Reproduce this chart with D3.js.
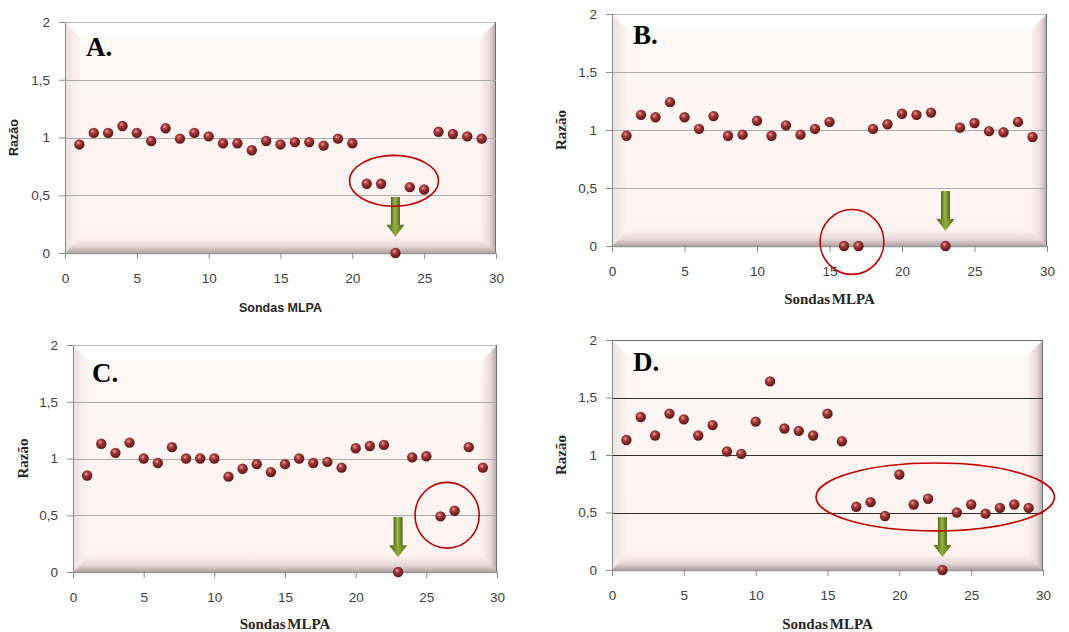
<!DOCTYPE html>
<html>
<head>
<meta charset="utf-8">
<script src="https://cdn.jsdelivr.net/npm/d3@7"></script>
<style>
  body { margin: 0; background: #fff; }
</style>
</head>
<body>
<svg id="chart" width="1069" height="632"></svg>
<script>
// probes 1..29 and ratio
var probes = [1, 2, 3, 4, 5, 6, 7, 8, 9, 10, 11, 12, 13, 14, 15, 16, 17, 18, 19, 20, 21, 22, 23, 24, 25, 26, 27, 28, 29];

var razaoA = [0.94, 1.04, 1.04, 1.10, 1.04, 0.97, 1.08, 0.99, 1.04, 1.01, 0.95, 0.95, 0.89, 0.97, 0.94,
              0.96, 0.96, 0.93, 0.99, 0.95, 0.60, 0.60, 0.00, 0.57, 0.55, 1.05, 1.03, 1.01, 0.99];
var razaoB = [0.95, 1.13, 1.11, 1.24, 1.11, 1.01, 1.12, 0.95, 0.96, 1.08, 0.95, 1.04, 0.96, 1.01, 1.07,
              0.00, 0.00, 1.01, 1.05, 1.14, 1.13, 1.15, 0.00, 1.02, 1.06, 0.99, 0.98, 1.07, 0.94];
var razaoC = [0.85, 1.13, 1.05, 1.14, 1.00, 0.96, 1.10, 1.00, 1.00, 1.00, 0.84, 0.91, 0.95, 0.88, 0.95,
              1.00, 0.96, 0.97, 0.92, 1.09, 1.11, 1.12, 0.00, 1.01, 1.02, 0.49, 0.54, 1.10, 0.92];
var razaoD = [1.13, 1.33, 1.17, 1.36, 1.31, 1.17, 1.26, 1.03, 1.01, 1.29, 1.64, 1.23, 1.21, 1.17, 1.36,
              1.12, 0.55, 0.59, 0.47, 0.83, 0.57, 0.62, 0.00, 0.50, 0.57, 0.49, 0.54, 0.57, 0.54];

var xTicks = [0, 5, 10, 15, 20, 25, 30];
var yTicks = [0, 0.5, 1, 1.5, 2];
var yTickLabels = ["0", "0,5", "1", "1,5", "2"];
var gridValues = [0.5, 1, 1.5];

// red ellipses (data units) and green arrows (data units)
var ellipses = {
  A: { cx: 22.9, cy: 0.625, rx: 3.1, ry: 0.22 },
  B: { cx: 16.55, cy: 0.035, rx: 2.2, ry: 0.28 },
  C: { cx: 26.47, cy: 0.50, rx: 2.27, ry: 0.29 },
  D: { cx: 22.5, cy: 0.635, rx: 8.3, ry: 0.295 }
};
var arrows = {
  A: { x: 23, from: 0.485, to: 0.14 },
  B: { x: 23, from: 0.474, to: 0.13 },
  C: { x: 23, from: 0.485, to: 0.13 },
  D: { x: 23, from: 0.46, to: 0.113 }
};

var panels = [
  { name: "A", data: razaoA, left: 65, right: 496, top: 22, bottom: 253, sans: true,
    grid: "#acacac", yTitleX: 14, xTitleY: 312, labelX: 86, labelY: 56 },
  { name: "B", data: razaoB, left: 612, right: 1047, top: 14, bottom: 246, sans: false,
    grid: "#acacac", yTitleX: 561, xTitleY: 304, labelX: 633, labelY: 44 },
  { name: "C", data: razaoC, left: 73, right: 497, top: 345, bottom: 572, sans: false,
    grid: "#acacac", yTitleX: 23, xTitleY: 629, labelX: 92, labelY: 382 },
  { name: "D", data: razaoD, left: 612, right: 1043, top: 340, bottom: 570, sans: false,
    grid: "#303030", yTitleX: 561, xTitleY: 629, labelX: 633, labelY: 371 }
];

var svg = d3.select("#chart");
var defs = svg.append("defs");

function linGrad(id, x1, y1, x2, y2, stops) {
  var g = defs.append("linearGradient").attr("id", id)
      .attr("x1", x1).attr("y1", y1).attr("x2", x2).attr("y2", y2);
  stops.forEach(function(s) {
    g.append("stop").attr("offset", s[0]).attr("stop-color", s[1]);
  });
}
linGrad("gFill", 0, 0, 0, 1, [[0, "#ffffff"], [0.1, "#fff8f6"], [1, "#fdf2f0"]]);
linGrad("gTop", 0, 0, 0, 1, [[0, "#ffffff"], [1, "#ffffff"]]);
linGrad("gLeft", 0, 0, 1, 0, [[0, "#ece2e2"], [1, "#fdf4f2"]]);
linGrad("gRight", 0, 0, 1, 0, [[0, "#fcf1ef"], [0.55, "#eadcdc"], [1, "#b4a6a6"]]);
linGrad("gBottom", 0, 0, 0, 1, [[0, "#fcf1ef"], [0.55, "#e6d8d8"], [1, "#b0a2a2"]]);
linGrad("gShaft", 0, 0, 1, 0, [[0, "#4a6418"], [0.45, "#9dbb45"], [1, "#4a6418"]]);
linGrad("gHead", 0, 0, 1, 0, [[0, "#4a6418"], [0.5, "#8fae3a"], [1, "#4a6418"]]);

var ball = defs.append("radialGradient").attr("id", "gBall")
    .attr("cx", 0.4).attr("cy", 0.35).attr("r", 0.65);
ball.append("stop").attr("offset", 0).attr("stop-color", "#e8a0a0");
ball.append("stop").attr("offset", 0.35).attr("stop-color", "#a53a3a");
ball.append("stop").attr("offset", 1).attr("stop-color", "#5c1414");

var sansFont = "'Liberation Sans', Arial, sans-serif";
var serifFont = "'Liberation Serif', 'Times New Roman', serif";

panels.forEach(function(p) {
  var x = d3.scaleLinear().domain([0, 30]).range([p.left, p.right]);
  var y = d3.scaleLinear().domain([0, 2]).range([p.bottom, p.top]);
  var g = svg.append("g");
  var b = 15;
  var x0 = p.left, x1 = p.right, yT = p.top, yB = p.bottom;

  // bevelled plot area
  g.append("rect").attr("x", x0).attr("y", yT).attr("width", x1 - x0).attr("height", yB - yT)
      .attr("fill", "url(#gFill)");
  g.append("polygon").attr("fill", "url(#gTop)")
      .attr("points", [[x0, yT], [x1, yT], [x1 - b, yT + b], [x0 + b, yT + b]].join(" "));
  g.append("polygon").attr("fill", "url(#gLeft)")
      .attr("points", [[x0, yT], [x0 + b, yT + b], [x0 + b, yB - b], [x0, yB]].join(" "));
  g.append("polygon").attr("fill", "url(#gRight)")
      .attr("points", [[x1, yT], [x1, yB], [x1 - b, yB - b], [x1 - b, yT + b]].join(" "));
  g.append("polygon").attr("fill", "url(#gBottom)")
      .attr("points", [[x0, yB], [x1, yB], [x1 - b, yB - b], [x0 + b, yB - b]].join(" "));
  g.append("line").attr("x1", x0).attr("x2", x1).attr("y1", yT + 0.5).attr("y2", yT + 0.5)
      .attr("stroke", p.name == "D" ? "#707070" : "#bcbcbc");
  g.append("line").attr("x1", x1 - 0.5).attr("x2", x1 - 0.5).attr("y1", yT).attr("y2", yB)
      .attr("stroke", "#707070");

  // grid lines
  g.selectAll(".grid").data(gridValues).join("line")
      .attr("x1", x0).attr("x2", x1)
      .attr("y1", function(d) { return Math.round(y(d)) + 0.5; })
      .attr("y2", function(d) { return Math.round(y(d)) + 0.5; })
      .attr("stroke", p.grid).attr("stroke-width", 1);

  // axes
  var yAxis = d3.axisLeft(y).tickValues(yTicks)
      .tickFormat(function(d, i) { return yTickLabels[i]; })
      .tickSize(6).tickPadding(9).tickSizeOuter(0);
  var xAxis = d3.axisBottom(x).tickValues(xTicks)
      .tickSize(6).tickPadding(14).tickSizeOuter(0);

  var ya = g.append("g").attr("transform", "translate(" + x0 + ",0)").call(yAxis);
  var xa = g.append("g").attr("transform", "translate(0," + yB + ")").call(xAxis);
  [ya, xa].forEach(function(a) {
    a.select(".domain").attr("stroke", "#8c8c8c");
    a.selectAll(".tick line").attr("stroke", "#8c8c8c");
    a.selectAll("text").attr("fill", "#404040")
        .style("font-family", sansFont).style("font-size", "13.5px");
  });
  xa.select(".domain").attr("stroke", "#9a9a9a").attr("stroke-width", 1.5);

  // axis titles
  var titleFont = p.sans ? sansFont : serifFont;
  var titleSize = p.sans ? "12.5px" : "15px";
  g.append("text")
      .attr("transform", "translate(" + p.yTitleX + "," + ((yT + yB) / 2) + ") rotate(-90)")
      .attr("text-anchor", "middle").attr("dy", "0.35em")
      .style("font-family", titleFont).style("font-size", titleSize)
      .style("font-weight", "bold").attr("fill", "#262626")
      .text("Razão");
  g.append("text")
      .attr("x", (x0 + x1) / 2).attr("y", p.xTitleY)
      .attr("text-anchor", "middle")
      .style("font-family", titleFont).style("font-size", titleSize)
      .style("font-weight", "bold").attr("fill", "#262626")
      .style("word-spacing", p.sans ? "0px" : "-2px")
      .text("Sondas MLPA");

  // panel letter
  g.append("text")
      .attr("x", p.labelX).attr("y", p.labelY)
      .style("font-family", serifFont).style("font-size", "27px")
      .style("font-weight", "bold").attr("fill", "#000")
      .text(p.name + ".");

  // points
  g.selectAll(".pt").data(p.data).join("circle")
      .attr("cx", function(d, i) { return x(probes[i]); })
      .attr("cy", function(d) { return y(d); })
      .attr("r", 5.2)
      .attr("fill", "url(#gBall)");

  // green arrow
  var ar = arrows[p.name];
  var ax = x(ar.x), ay0 = y(ar.from), ay1 = y(ar.to);
  var hw = 9, sw = 4.5, hh = 12;
  g.append("rect").attr("x", ax - sw).attr("y", ay0).attr("width", sw * 2).attr("height", ay1 - ay0 - hh + 1)
      .attr("fill", "url(#gShaft)");
  g.append("polygon").attr("fill", "url(#gHead)")
      .attr("points", [[ax - hw, ay1 - hh], [ax + hw, ay1 - hh], [ax, ay1]].join(" "));

  // red ellipse
  var el = ellipses[p.name];
  g.append("ellipse")
      .attr("cx", x(el.cx)).attr("cy", y(el.cy))
      .attr("rx", x(el.rx) - x(0)).attr("ry", y(0) - y(el.ry))
      .attr("fill", "none").attr("stroke", "#c00000").attr("stroke-width", 1.6);
});
</script>
</body>
</html>
